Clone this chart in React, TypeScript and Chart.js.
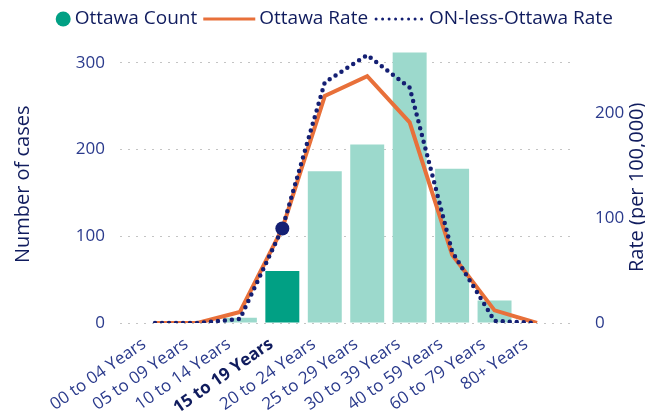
import React, { useEffect, useRef } from 'react';
import { Chart, registerables } from 'chart.js';

Chart.register(...registerables);

const FONT = "'Segoe UI', 'Open Sans', 'Noto Sans', sans-serif";

const categories = [
  '00 to 04 Years',
  '05 to 09 Years',
  '10 to 14 Years',
  '15 to 19 Years',
  '20 to 24 Years',
  '25 to 29 Years',
  '30 to 39 Years',
  '40 to 59 Years',
  '60 to 79 Years',
  '80+ Years',
];
const ottawaCount = [0, 0, 6, 60, 175, 206, 312, 178, 26, 0];
const ottawaRate = [0, 0, 10.5, 90, 216, 235, 191, 65, 12, 0];
const onLessOttawaRate = [0, 0, 3.8, 90, 229, 255, 224, 68, 2, 0];
const highlightIndex = 3;

const seriesLabels = ['Ottawa Count', 'Ottawa Rate', 'ON-less-Ottawa Rate'];
const leftAxisTitle = 'Number of cases';
const rightAxisTitle = 'Rate (per 100,000)';

const TEAL = '#01a084';
const TEAL_LIGHT = '#9cd9cc';
const ORANGE = '#e8703a';
const NAVY = '#141f73';
const TEXT_DARK = '#101c5e';
const TICK_COLOR = '#2a3a8c';

const toPoints = (arr: number[]) => arr.map((v, i) => ({ x: i, y: v }));

const legendPlugin = {
  id: 'customLegend',
  afterDraw(chart: any) {
    const ctx = chart.ctx as CanvasRenderingContext2D;
    const ds = chart.data.datasets;
    ctx.save();
    ctx.font = `19px ${FONT}`;
    ctx.textBaseline = 'middle';
    const y = 19;
    const markerW = [15, 52, 51];
    const gapAfterMarker = 4;
    const gapAfterText = 6;
    const widths = ds.map((d: any) => ctx.measureText(d.label).width);
    let total = 0;
    ds.forEach((_: any, i: number) => {
      total += markerW[i] + gapAfterMarker + widths[i];
      if (i < ds.length - 1) total += gapAfterText;
    });
    const center = (chart.width / 2 + (chart.chartArea.left + chart.chartArea.right) / 2) / 2;
    let x = center - total / 2;
    ds.forEach((d: any, i: number) => {
      if (i === 0) {
        ctx.fillStyle = TEAL;
        ctx.beginPath();
        ctx.arc(x + markerW[i] / 2, y, markerW[i] / 2, 0, Math.PI * 2);
        ctx.fill();
      } else {
        ctx.beginPath();
        ctx.strokeStyle = d.borderColor;
        ctx.lineWidth = 3;
        ctx.lineCap = i === 1 ? 'butt' : 'round';
        ctx.setLineDash(i === 1 ? [] : [0, 6.5]);
        ctx.moveTo(x + (i === 1 ? 0 : 2), y);
        ctx.lineTo(x + markerW[i], y);
        ctx.stroke();
        ctx.setLineDash([]);
      }
      x += markerW[i] + gapAfterMarker;
      ctx.fillStyle = TEXT_DARK;
      ctx.textAlign = 'left';
      ctx.fillText(d.label, x, y);
      x += widths[i] + gapAfterText;
    });
    ctx.restore();
  },
};

const rightTitlePlugin = {
  id: 'rightTitle',
  afterDraw(chart: any) {
    const ctx = chart.ctx as CanvasRenderingContext2D;
    const area = chart.chartArea;
    ctx.save();
    ctx.font = `20px ${FONT}`;
    ctx.fillStyle = TEXT_DARK;
    ctx.textAlign = 'center';
    ctx.textBaseline = 'middle';
    ctx.translate(chart.width - 8, (area.top + area.bottom) / 2 + 3);
    ctx.rotate(-Math.PI / 2);
    ctx.fillText(rightAxisTitle, 0, 0);
    ctx.restore();
  },
};

export default function App() {
  const ref = useRef<HTMLCanvasElement | null>(null);

  useEffect(() => {
    document.body.style.margin = '0';
    const canvas = ref.current;
    if (!canvas) return;
    const chart = new Chart(canvas, {
      type: 'bar',
      data: {
        datasets: [
          {
            type: 'bar',
            label: seriesLabels[0],
            data: toPoints(ottawaCount),
            yAxisID: 'y',
            backgroundColor: ottawaCount.map((_, i) => (i === highlightIndex ? TEAL : TEAL_LIGHT)),
            borderWidth: 0,
            barPercentage: 0.8,
            categoryPercentage: 1,
            order: 2,
          } as any,
          {
            type: 'line',
            label: seriesLabels[1],
            data: toPoints(ottawaRate),
            yAxisID: 'y1',
            borderColor: ORANGE,
            borderWidth: 4,
            tension: 0,
            pointRadius: 0,
            order: 1,
          } as any,
          {
            type: 'line',
            label: seriesLabels[2],
            data: toPoints(onLessOttawaRate),
            yAxisID: 'y1',
            borderColor: NAVY,
            borderWidth: 4.5,
            borderDash: [0, 7],
            borderCapStyle: 'round',
            tension: 0,
            pointRadius: (c: any) => (c.dataIndex === highlightIndex ? 7 : 0),
            pointBackgroundColor: NAVY,
            pointBorderWidth: 0,
            order: 0,
          } as any,
        ],
      },
      options: {
        responsive: false,
        animation: false,
        devicePixelRatio: 1,
        layout: { padding: { top: 45.6, left: 0, right: 0, bottom: 0 } },
        plugins: {
          legend: { display: false },
          tooltip: { enabled: false },
        },
        scales: {
          x: {
            type: 'linear',
            min: -0.825,
            max: 9.825,
            offset: false,
            grid: { display: false, drawTicks: false },
            border: { display: false },
            afterBuildTicks: (scale: any) => {
              scale.ticks = categories.map((_, i) => ({ value: i }));
            },
            afterFit: (scale: any) => {
              scale.height = 92;
            },
            ticks: {
              autoSkip: false,
              maxRotation: 35,
              minRotation: 35,
              padding: 11,
              labelOffset: -11,
              callback: (v: any) => categories[v as number] ?? '',
              color: (c: any) => (c.tick && c.tick.value === highlightIndex ? TEXT_DARK : TICK_COLOR),
              font: (c: any) => ({
                family: FONT,
                size: 17,
                weight: c.tick && c.tick.value === highlightIndex ? 'bold' : 'normal',
              }),
            },
          },
          y: {
            type: 'linear',
            position: 'left',
            min: 0,
            max: 320,
            grid: { color: '#c4c4c4', lineWidth: 1, drawTicks: false },
            border: { display: false, dash: [2, 6] },
            afterFit: (scale: any) => {
              scale.width = 120;
            },
            ticks: {
              stepSize: 100,
              includeBounds: false,
              padding: 15,
              color: TICK_COLOR,
              font: { family: FONT, size: 17 },
            },
            title: {
              display: true,
              text: leftAxisTitle,
              color: TEXT_DARK,
              font: { family: FONT, size: 20 },
              padding: { top: 11, bottom: 0 },
            },
          },
          y1: {
            type: 'linear',
            position: 'right',
            min: 0,
            max: 264,
            grid: { display: false, drawOnChartArea: false },
            border: { display: false },
            afterFit: (scale: any) => {
              scale.width = 73;
            },
            ticks: {
              stepSize: 100,
              includeBounds: false,
              padding: 15,
              color: TICK_COLOR,
              font: { family: FONT, size: 17 },
            },
          },
        },
      } as any,
      plugins: [legendPlugin, rightTitlePlugin],
    });
    return () => chart.destroy();
  }, []);

  return (
    <div style={{ width: 645, height: 415 }}>
      <canvas ref={ref} width={645} height={415} />
    </div>
  );
}
